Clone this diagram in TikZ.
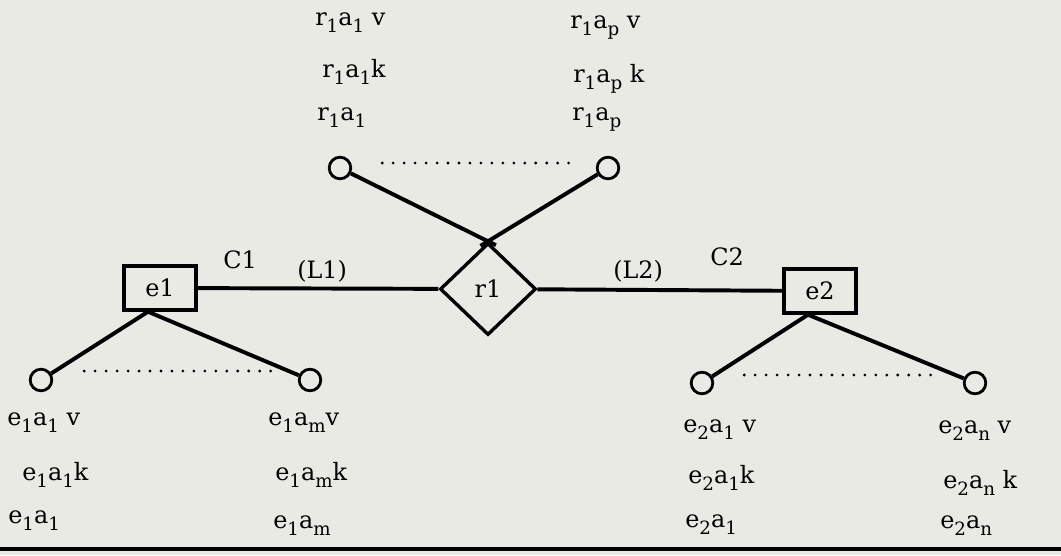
\documentclass[tikz,border=0pt]{standalone}
\usepackage{fontspec}
\setmainfont{DejaVu Serif}
\usetikzlibrary{shapes.geometric, calc}
\definecolor{paper}{RGB}{233, 234, 228}

% lowered index, larger than \textsubscript
\newcommand{\ix}[1]{\raisebox{-5.5pt}{\fontsize{13}{13}\selectfont #1}}

\tikzset{
  entity/.style={draw, line width=2.4pt, rectangle, minimum width=1.8cm, minimum height=1.1cm, inner sep=0pt},
  relation/.style={draw, line width=2.4pt, diamond, minimum width=2.4cm, minimum height=2.3cm, inner sep=0pt},
  attr/.style={draw, line width=2pt, circle, minimum size=0.54cm, inner sep=0pt},
  link/.style={line width=2.8pt},
  dots/.style={line width=2.2pt, line cap=round, dash pattern=on 0pt off 7.8pt},
  lbl/.style={anchor=base west, inner sep=0pt, font=\fontsize{17}{20}\selectfont},
  txt/.style={font=\fontsize{17}{20}\selectfont}
}

\begin{document}
\begin{tikzpicture}[x=0.025cm, y=-0.025cm]
  \fill[paper] (0,0) rectangle (1061,555);
  \useasboundingbox (0,0) rectangle (1061,555);

  % entities and relationship
  \node[entity, txt] (e1) at (160,288) {e1};
  \node[entity, txt] (e2) at (820,291) {e2};
  \node[relation, txt] (r1) at (488,289) {r1};

  % attribute circles
  \node[attr] (ra1) at (340,168) {};
  \node[attr] (rap) at (608,168) {};
  \node[attr] (a11) at (41,380) {};
  \node[attr] (a1m) at (310,380) {};
  \node[attr] (a21) at (702,383) {};
  \node[attr] (a2n) at (975,383) {};

  % connectors
  \draw[link] (e1) -- (r1);
  \draw[link] (r1) -- (e2);
  \coordinate (e1b) at ([xshift=-0.3cm]e1.south);
  \coordinate (e2b) at ([xshift=-0.3cm]e2.south);
  \draw[link] (e1b) -- (a11);
  \draw[link] (e1b) -- (a1m);
  \draw[link] (e2b) -- (a21);
  \draw[link] (e2b) -- (a2n);
  \coordinate (x1) at ($(r1.north)!-0.22cm!(ra1)$);
  \coordinate (x2) at ($(r1.north)!-0.22cm!(rap)$);
  \draw[link] (ra1) -- (x1);
  \draw[link] (rap) -- (x2);

  % dotted gaps
  \draw[dots] ([shift={(30,-5)}]ra1.east) -- ([shift={(-24,-5)}]rap.west);
  \draw[dots] ([shift={(31,-9)}]a11.east) -- ([shift={(-26,-9)}]a1m.west);
  \draw[dots] ([shift={(30,-8)}]a21.east) -- ([shift={(-27,-8)}]a2n.west);

  % cardinalities
  \node[lbl] (c1) at (223,268) {C1};
  \node[lbl] (l1) at (297,278) {(L1)};
  \node[lbl] (l2) at (613,278) {(L2)};
  \node[lbl] (c2) at (710,265) {C2};

  % attribute names
  \node[lbl] (tr1) at (315,25) {r\ix{1}a\ix{1} v};
  \node[lbl] (tr2) at (322,77) {r\ix{1}a\ix{1}k};
  \node[lbl] (tr3) at (317,120) {r\ix{1}a\ix{1}};
  \node[lbl] (tp1) at (570,28) {r\ix{1}a\ix{p} v};
  \node[lbl] (tp2) at (573,82) {r\ix{1}a\ix{p} k};
  \node[lbl] (tp3) at (572,120) {r\ix{1}a\ix{p}};

  \node[lbl] (ta1) at (7,425) {e\ix{1}a\ix{1} v};
  \node[lbl] (ta2) at (22,480) {e\ix{1}a\ix{1}k};
  \node[lbl] (ta3) at (8,523) {e\ix{1}a\ix{1}};
  \node[lbl] (tm1) at (268,425) {e\ix{1}a\ix{m}v};
  \node[lbl] (tm2) at (275,480) {e\ix{1}a\ix{m}k};
  \node[lbl] (tm3) at (273,528) {e\ix{1}a\ix{m}};

  \node[lbl] (tb1) at (683,432) {e\ix{2}a\ix{1} v};
  \node[lbl] (tb2) at (688,483) {e\ix{2}a\ix{1}k};
  \node[lbl] (tb3) at (685,527) {e\ix{2}a\ix{1}};
  \node[lbl] (tn1) at (938,433) {e\ix{2}a\ix{n} v};
  \node[lbl] (tn2) at (943,488) {e\ix{2}a\ix{n} k};
  \node[lbl] (tn3) at (940,528) {e\ix{2}a\ix{n}};

  % bottom rule
  \coordinate (rl) at (0,549);
  \coordinate (rr) at (1061,549);
  \draw[line width=2.8pt] (rl) -- (rr);
\end{tikzpicture}
\end{document}
